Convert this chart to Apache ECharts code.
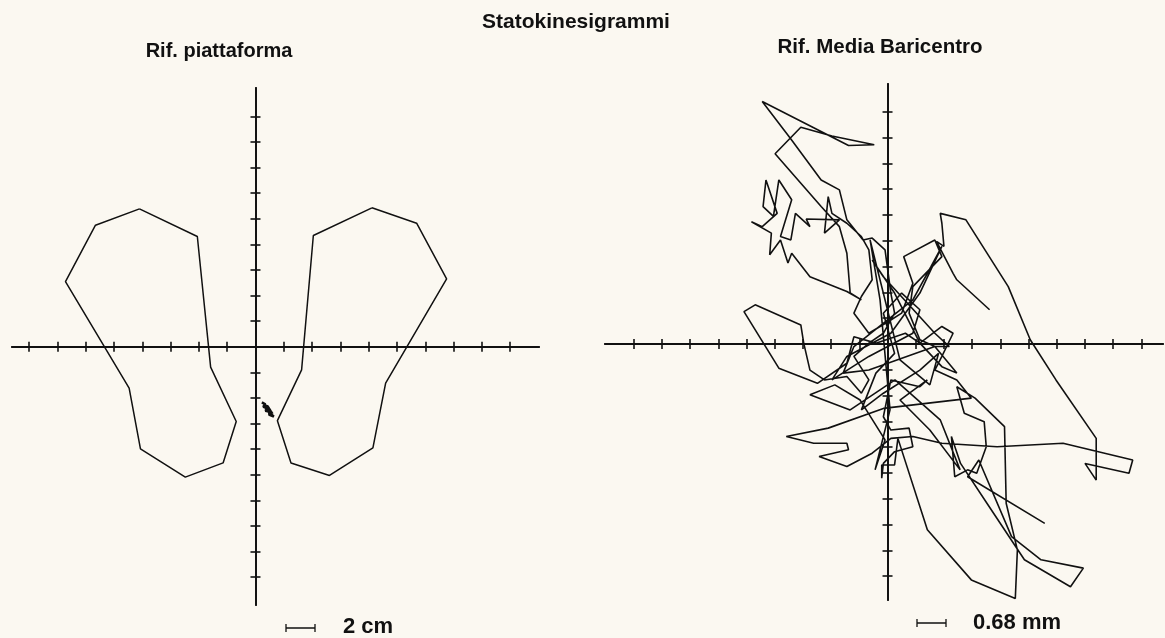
<!DOCTYPE html>
<html>
<head>
<meta charset="utf-8">
<script src="https://cdn.jsdelivr.net/npm/echarts@6/dist/echarts.min.js"></script>
<style>
html, body { margin: 0; padding: 0; background: #fbf8f1; }
#chart { width: 1165px; height: 638px; }
</style>
</head>
<body>
<div id="chart"></div>
<script>
// Rif. piattaforma (cm)
const leftFootX = [-8.20, -4.11, -3.17, -1.36, -2.29, -4.96, -8.13, -8.93, -13.43, -11.31, -8.20];
const leftFootY = [10.77, 8.61, -1.60, -5.84, -9.08, -10.19, -7.99, -3.24, 5.09, 9.49, 10.77];
const rightFootX = [8.23, 11.39, 13.51, 9.20, 8.30, 5.23, 2.51, 1.55, 3.26, 4.09, 8.23];
const rightFootY = [10.85, 9.65, 5.29, -2.85, -7.91, -10.06, -9.08, -5.78, -1.81, 8.69, 10.85];
const copX = [0.45, 0.7, 0.55, 0.9, 0.7, 1.1, 0.95, 1.3, 1.0, 0.8, 0.6, 0.85, 1.05, 1.2];
const copY = [-4.35, -4.5, -4.7, -4.8, -5.0, -5.1, -5.3, -5.45, -5.2, -4.9, -4.6, -4.65, -5.0, -5.25];
const platformTicksX = [-16, -14, -12, -10, -8, -6, -4, -2, 2, 4, 6, 8, 10, 12, 14, 16, 18];
const platformTicksY = [-18, -16, -14, -12, -10, -8, -6, -4, -2, 2, 4, 6, 8, 10, 12, 14, 16, 18];

// Rif. Media Baricentro (mm)
const swayX = [
    2.46, 1.67, 1.58, 1.18, 1.36, 1.31, 1.27, 1.89, 2.91, 3.44, 4.06, 5.03, 5.03, 4.76, 5.82, 5.91, 4.23, 2.64, 1.31,
    0.61, 0.08, -0.37, -0.98, -1.65, -0.94, -0.98, -1.78, -2.44, -1.43, -0.10, 2.02, 1.67, 1.14, 1.31, 1.58, 1.31, 0.78, 0.43,
    -0.28, -0.81, -0.98, -1.69, -2.62, -3.46, -3.19, -2.09, -2.02, -1.87, -1.52, -0.98, -0.63, -0.45, -0.81, -0.45, -0.10, 0.17, 0.08,
    -0.06, -0.37, -0.59, -0.98, -1.16, -1.60, -2.33, -3.02, -0.94, -0.32, -1.34, -2.09, -2.71, -1.60, -1.16, -0.98, -0.90, -0.63,
    -0.98, -1.87, -2.31, -2.40, -2.58, -2.84, -2.80, -3.28, -3.02, -2.66, -2.93, -3.00, -2.75, -2.62, -2.31, -2.58, -2.33, -2.22, -1.87, -1.96, -1.16, -1.52, -1.43, -1.34, -0.98, -0.63, -0.45, -0.37, -0.63, -0.81, -0.45, 0.08,
    0.34, 0.61, 0.39, 1.14, 1.31, 0.61, 0.52, 0.78, 1.14, 1.49,
    1.14, -0.10, -0.37, 0.17, 0.78, 1.31, 1.67, 1.14, -0.45, -1.07, -0.81, 0.61, 1.05, 1.31, 0.78, 0.08, -0.98, -1.34, -0.45, 0.61, 0.78, 0.34, -0.10, 0.17, -0.28, -0.63, -0.10, 0.78, 1.23,
    1.02, 0.30, -0.42, -0.18, 0.06, -0.30, -0.06, -0.66, -1.27, -1.87, -0.90, 0.18, 1.27, 1.75, 1.02, 0.30,
    0.96, 0.78, 0.08, -0.10, 0.08, 0.52, 0.61, 0.17, -0.10, -0.14, -0.14, 0.17, 0.25, 0.96, 2.02, 3.08, 3.13, 2.86, 2.82, 2.11, 1.67, 1.85, 2.33, 2.38, 2.15, 1.93, 1.62, 1.54, 1.76, 2.42, 3.30, 4.41, 4.72, 3.70, 2.99, 2.20, 1.93, 3.79
];
const swayY = [
    0.90, 1.69, 1.86, 2.70, 2.57, 3.18, 3.44, 3.27, 1.51, 0.11, -0.95, -2.49, -3.59, -3.15, -3.41, -3.06, -2.62, -2.71, -2.62,
    -2.44, -2.49, -2.88, -3.23, -2.97, -2.79, -2.62, -2.62, -2.44, -2.22, -1.70, -1.43, -0.95, -0.69, -0.33, 0.28, 0.46, 0.02, 0.28,
    0.02, 0.19, -0.51, -1.04, -0.64, 0.85, 1.03, 0.50, 0.02, -0.69, -0.95, -0.86, -1.30, -0.95, -0.33, 0.02, 0.28, 0.81, 1.34,
    2.48, 2.79, 2.74, 3.27, 4.06, 4.32, 5.40, 6.39, 5.23, 5.25, 5.48, 5.71, 5.01, 3.62, 3.09, 2.39, 1.34, 1.16,
    1.38, 1.77, 2.39, 2.13, 2.74, 2.35, 2.92, 3.22, 3.09, 3.44, 4.32, 3.62, 3.36, 4.32, 3.80, 2.83, 2.74, 3.44, 3.09, 3.29, 3.27, 2.92, 3.88, 3.44, 3.18, 2.83, 2.48, 1.69, 1.25, 0.81, 0.28, 0.63,
    0.81, 1.60, 2.30, 2.74, 2.30, 1.51, 0.81, 0.11, -0.07, -0.07,
    0.28, 1.77, 2.21, 1.34, 0.02, -0.60, -0.77, -0.07, -0.69, -0.77, -0.07, 1.16, 2.04, 2.57, 1.34, 0.28, -0.33, -0.95, -0.33, 0.28, 0.90, 1.34, 0.81, -0.25, -0.77, -1.74, -1.30, -0.69, -0.25,
    -1.08, -0.42, 2.74, 1.16, -1.74, -3.32, -2.53, -1.48, -1.08, -1.34, -1.74, -0.95, -2.00, -3.32, -2.27, -1.48,
    -0.95, -1.13, -0.95, -1.92, -2.27, -2.22, -2.71, -2.84, -3.15, -3.54, -3.19, -3.19, -2.49, -4.90, -6.22, -6.71, -5.43, -4.20, -2.18, -1.43, -1.13, -1.83, -2.05, -2.71, -3.41, -3.32, -3.50, -2.44, -3.15, -4.24, -5.69, -6.40, -5.91, -5.69, -5.08, -3.06, -3.50, -4.73
];
const baricentroTicks = [-6.12, -5.44, -4.76, -4.08, -3.40, -2.72, -2.04, -1.36, -0.68, 0.68, 1.36, 2.04, 2.72, 3.40, 4.08, 4.76, 5.44, 6.12];

const zip = (xs, ys) => xs.map((x, i) => [x, ys[i]]);
const ink = '#111';
const font = (size) => 'bold ' + size + 'px "Liberation Sans", Arial, sans-serif';

const chart = echarts.init(document.getElementById('chart'));

const crossAxis = (gridIndex, position, min, max, ticks) => ({
    type: 'value',
    gridIndex: gridIndex,
    position: position,
    min: min,
    max: max,
    axisLine: { show: true, onZero: true, lineStyle: { color: ink, width: 1.8 } },
    axisTick: { show: true, inside: false, length: 5, customValues: ticks, lineStyle: { color: ink, width: 1.6 } },
    axisLabel: { show: false },
    splitLine: { show: false }
});

const lineSeries = (data, xi, yi, width) => ({
    type: 'line',
    xAxisIndex: xi,
    yAxisIndex: yi,
    data: data,
    showSymbol: false,
    symbol: 'none',
    silent: true,
    lineStyle: { color: ink, width: width }
});

chart.setOption({
    backgroundColor: '#fbf8f1',
    animation: false,
    grid: [
        { left: 12, top: 88, width: 527, height: 517 },
        { left: 605, top: 84, width: 558, height: 516 }
    ],
    xAxis: [
        crossAxis(0, 'bottom', -17.21, 20.04, platformTicksX),
        crossAxis(0, 'top', -17.21, 20.04, platformTicksX),
        crossAxis(1, 'bottom', -6.81, 6.64, baricentroTicks),
        crossAxis(1, 'top', -6.81, 6.64, baricentroTicks)
    ],
    yAxis: [
        crossAxis(0, 'left', -20.18, 20.21, platformTicksY),
        crossAxis(0, 'right', -20.18, 20.21, platformTicksY),
        crossAxis(1, 'left', -6.75, 6.85, baricentroTicks),
        crossAxis(1, 'right', -6.75, 6.85, baricentroTicks)
    ],
    series: [
        lineSeries(zip(leftFootX, leftFootY), 0, 0, 1.5),
        lineSeries(zip(rightFootX, rightFootY), 0, 0, 1.5),
        lineSeries(zip(copX, copY), 0, 0, 2.6),
        lineSeries(zip(swayX, swayY), 2, 2, 1.6)
    ],
    graphic: [
        { type: 'text', x: 576, y: 22, style: { text: 'Statokinesigrammi', font: font(21), fill: ink, textAlign: 'center', textVerticalAlign: 'middle' } },
        { type: 'text', x: 219, y: 51, style: { text: 'Rif. piattaforma', font: font(20), fill: ink, textAlign: 'center', textVerticalAlign: 'middle' } },
        { type: 'text', x: 880, y: 47, style: { text: 'Rif. Media Baricentro', font: font(20.5), fill: ink, textAlign: 'center', textVerticalAlign: 'middle' } },
        { type: 'polyline', shape: { points: [[286, 624], [286, 632], [286, 628], [315, 628], [315, 624], [315, 632]] }, style: { stroke: ink, lineWidth: 1.3, fill: null } },
        { type: 'text', x: 343, y: 627, style: { text: '2 cm', font: font(22), fill: ink, textVerticalAlign: 'middle' } },
        { type: 'polyline', shape: { points: [[917, 619], [917, 627], [917, 623], [946, 623], [946, 619], [946, 627]] }, style: { stroke: ink, lineWidth: 1.3, fill: null } },
        { type: 'text', x: 973, y: 623, style: { text: '0.68 mm', font: font(22), fill: ink, textVerticalAlign: 'middle' } }
    ]
});
</script>
</body>
</html>
